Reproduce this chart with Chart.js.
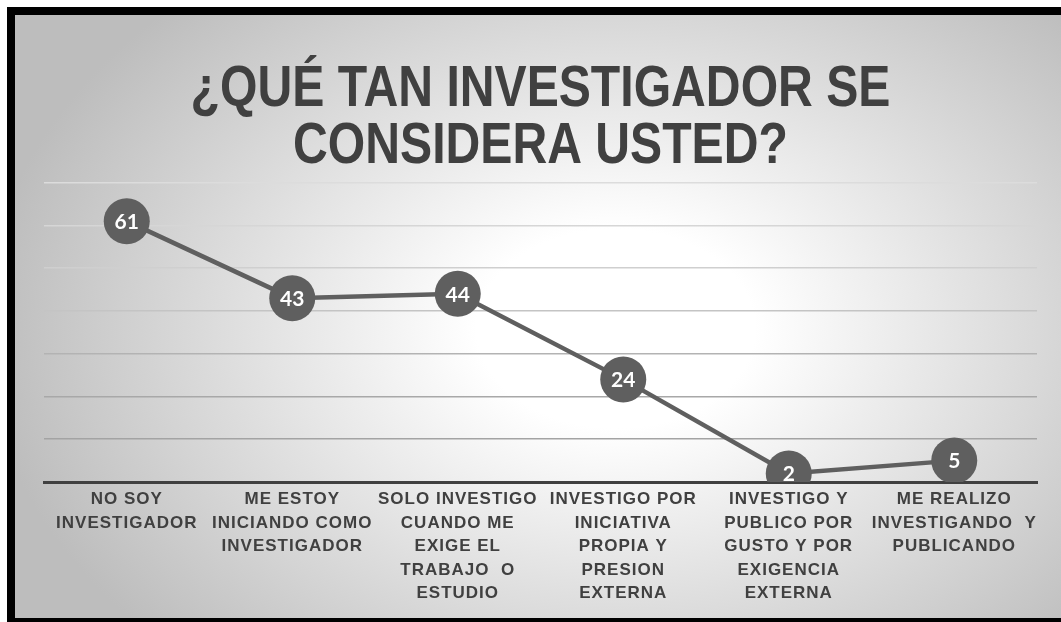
<!DOCTYPE html>
<html>
<head>
<meta charset="utf-8">
<script src="https://cdn.jsdelivr.net/npm/chart.js@4"></script>
<style>
  html, body { margin: 0; padding: 0; background: #fff; overflow: hidden; }
  .frame {
    position: absolute; left: 7px; top: 7px;
    width: 1070px; height: 619px;
    box-sizing: border-box;
    border: 8px solid #000;
    background: radial-gradient(ellipse 60% 75% at 57% 52%, #ffffff 0%, #ffffff 22%, #bdbdbd 100%);
  }
  canvas { position: absolute; left: 0; top: 0; }
</style>
</head>
<body>
<div class="frame">
  <canvas id="chart" width="1046" height="603"></canvas>
</div>
<script>
// categories (wrapped the same way as the original labels)
const categories = [
  ['NO SOY', 'INVESTIGADOR'],
  ['ME ESTOY', 'INICIANDO COMO', 'INVESTIGADOR'],
  ['SOLO INVESTIGO', 'CUANDO ME', 'EXIGE EL', 'TRABAJO  O', 'ESTUDIO'],
  ['INVESTIGO POR', 'INICIATIVA', 'PROPIA Y', 'PRESION', 'EXTERNA'],
  ['INVESTIGO Y', 'PUBLICO POR', 'GUSTO Y POR', 'EXIGENCIA', 'EXTERNA'],
  ['ME REALIZO', 'INVESTIGANDO  Y', 'PUBLICANDO']
];
const respuestas = [61, 43, 44, 24, 2, 5];
const titleLines = ['¿QUÉ TAN INVESTIGADOR SE', 'CONSIDERA USTED?'];
const yTicks = [0, 10, 20, 30, 40, 50, 60, 70];

const gridColors = ['rgba(0,0,0,0)', '#a3a3a3', '#a8a8a8', '#b3b3b3', '#c4c4c4', '#cfcfcf', '#d6d6d6', '#dcdcdc'];

// white numbers inside the markers
const valueLabels = {
  id: 'valueLabels',
  afterDatasetsDraw(chart) {
    const ctx = chart.ctx;
    const meta = chart.getDatasetMeta(0);
    ctx.save();
    ctx.fillStyle = '#ffffff';
    ctx.font = 'bold 21px Lato';
    ctx.textAlign = 'center';
    ctx.textBaseline = 'middle';
    meta.data.forEach((pt, i) => {
      ctx.fillText(String(respuestas[i]), pt.x, pt.y + 1);
    });
    ctx.restore();
  }
};

const chart = new Chart(document.getElementById('chart'), {
  type: 'line',
  data: {
    labels: categories,
    datasets: [{
      data: respuestas,
      borderColor: '#5f5f5f',
      borderWidth: 4.5,
      backgroundColor: '#5f5f5f',
      pointRadius: 23,
      pointHoverRadius: 23,
      pointBorderWidth: 0,
      pointBackgroundColor: '#5f5f5f',
      tension: 0
    }]
  },
  options: {
    responsive: false,
    animation: false,
    events: [],
    layout: { padding: { left: 29, right: 24, top: 0, bottom: 0 } },
    plugins: {
      legend: { display: false },
      tooltip: { enabled: false },
      title: {
        display: true,
        text: titleLines,
        color: '#404040',
        font: { family: 'Liberation Sans', size: 58, weight: 'bold', lineHeight: 0.98 },
        padding: { top: 47, bottom: 7 }
      }
    },
    scales: {
      x: {
        offset: true,
        grid: { display: false },
        border: { display: true, color: '#404040', width: 3 },
        ticks: {
          color: '#404040',
          font: { family: 'Liberation Sans', size: 17, weight: 'bold', lineHeight: 1.38 },
          padding: -2,
          maxRotation: 0,
          autoSkip: false
        },
        afterFit(scale) { scale.height = 136; }
      },
      y: {
        min: 0,
        max: 70,
        afterBuildTicks(scale) { scale.ticks = yTicks.map(v => ({ value: v })); },
        border: { display: false },
        grid: {
          drawTicks: false,
          lineWidth: 1.5,
          color: ctx => gridColors[ctx.index] || '#d9d9d9'
        },
        ticks: { display: false }
      }
    }
  },
  plugins: [valueLabels]
});

// the title in the original is set in a condensed face: squeeze it horizontally
const tb = chart.titleBlock;
const drawTitle = tb.draw.bind(tb);
tb.draw = function () {
  const ctx = this.ctx;
  const cx = this.left + this.width / 2;
  ctx.save();
  ctx.translate(cx, 0);
  ctx.scale(0.83, 1);
  ctx.translate(-cx, 0);
  drawTitle();
  ctx.restore();
};

// category labels are drawn slightly spaced out, like in the original
const xs = chart.scales.x;
const drawLabels = xs.drawLabels.bind(xs);
xs.drawLabels = function (area) {
  this.ctx.save();
  this.ctx.letterSpacing = '1px';
  drawLabels(area);
  this.ctx.restore();
};
chart.draw();
</script>
</body>
</html>
